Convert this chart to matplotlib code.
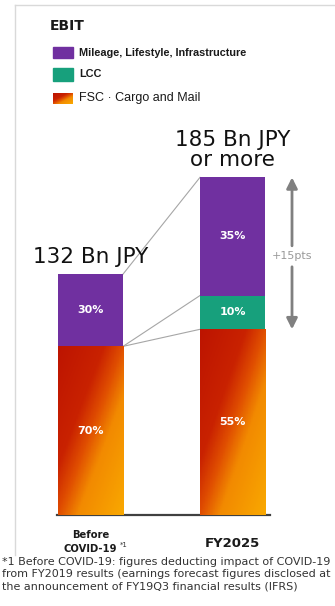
import numpy as np
import matplotlib.pyplot as plt
from matplotlib.colors import LinearSegmentedColormap
from matplotlib.patches import Rectangle
from matplotlib.lines import Line2D

# data
periods = ['Before\nCOVID-19', 'FY2025']
totals = [132, 185]
share_fsc = [70, 55]
share_lcc = [0, 10]
share_mileage = [30, 35]
total_labels = ['132 Bn JPY', '185 Bn JPY\nor more']
legend_names = ['Mileage, Lifestyle, Infrastructure', 'LCC', 'FSC \u00b7 Cargo and Mail']

fsc = [t * s / 100 for t, s in zip(totals, share_fsc)]
lcc = [t * s / 100 for t, s in zip(totals, share_lcc)]
mileage = [t * s / 100 for t, s in zip(totals, share_mileage)]

purple = '#7030a0'
green = '#17a07c'
grad_cmap = LinearSegmentedColormap.from_list(
    'fsc', [(0, '#bd1400'), (0.35, '#c92200'), (0.5, '#e04e00'),
            (0.65, '#f28a00'), (1, '#f9a800')])

def gradient(nx=40, ny=120):
    # diagonal red -> orange, top-left to bottom-right
    u = np.linspace(0, 1, nx)[None, :]
    v = np.linspace(0, 1, ny)[:, None]
    return (u + v) / 2

fig = plt.figure(figsize=(3.35, 6.06), dpi=100)
ax = fig.add_axes([57 / 335, 91 / 606, 213 / 335, 365 / 606])

x = np.arange(len(periods))
w = 0.458
bars_fsc = ax.bar(x, fsc, w, color='#d83a00', zorder=2)
ax.bar(x, lcc, w, bottom=fsc, color=green, zorder=2)
bottom2 = [a + b for a, b in zip(fsc, lcc)]
ax.bar(x, mileage, w, bottom=bottom2, color=purple, zorder=2)

# gradient fill for FSC bars
for b in bars_fsc:
    x0 = b.get_x()
    im = ax.imshow(gradient(), cmap=grad_cmap, vmin=0, vmax=1, aspect='auto',
                   extent=[x0, x0 + b.get_width(), 0, b.get_height()], zorder=3)
    im.set_clip_path(b)

# connector lines
ax.plot([w / 2, 1 - w / 2], [totals[0], totals[1]], color='#a6a6a6', lw=0.8, zorder=1)
ax.plot([w / 2, 1 - w / 2], [fsc[0], bottom2[1]], color='#a6a6a6', lw=0.8, zorder=1)
ax.plot([w / 2, 1 - w / 2], [fsc[0], fsc[1]], color='#a6a6a6', lw=0.8, zorder=1)

# percentage labels
for i in x:
    ax.text(i, fsc[i] / 2, '%d%%' % share_fsc[i], color='white', fontsize=8,
            fontweight='bold', ha='center', va='center', zorder=4)
    if share_lcc[i]:
        ax.text(i, fsc[i] + lcc[i] / 2, '%d%%' % share_lcc[i], color='white',
                fontsize=8, fontweight='bold', ha='center', va='center', zorder=4)
    ax.text(i, bottom2[i] + mileage[i] / 2, '%d%%' % share_mileage[i], color='white',
            fontsize=8, fontweight='bold', ha='center', va='center', zorder=4)

# totals
ax.text(0, totals[0] + 6, total_labels[0], fontsize=15.5, ha='center', va='baseline',
        color='#111111', clip_on=False)
ax.text(1, totals[1] + 4, total_labels[1], fontsize=15.5, ha='center', va='bottom',
        color='#111111', linespacing=1.0, clip_on=False)

# +15pts arrow
ax_x = 1.419
ax.annotate('', xy=(ax_x, totals[1]), xytext=(ax_x, 147.5), annotation_clip=False,
            arrowprops=dict(arrowstyle='-|>', color='#808080', lw=2, mutation_scale=16,
                            shrinkA=0, shrinkB=0))
ax.annotate('', xy=(ax_x, fsc[1]), xytext=(ax_x, 136), annotation_clip=False,
            arrowprops=dict(arrowstyle='-|>', color='#808080', lw=2, mutation_scale=16,
                            shrinkA=0, shrinkB=0))
ax.text(ax_x, 141.8, '+15pts', fontsize=8, color='#999999', ha='center', va='center',
        clip_on=False)

ax.set_xlim(-0.236, 1.264)
ax.set_ylim(0, 200)
for s in ['top', 'right', 'left']:
    ax.spines[s].set_visible(False)
ax.spines['bottom'].set_color('#404040')
ax.spines['bottom'].set_linewidth(1.6)
ax.set_yticks([])
ax.set_xticks([])

# category labels
ax.text(0, -8, periods[0], fontsize=7.2, fontweight='bold', ha='center', va='top',
        linespacing=1.6, color='#1a1a1a')
ax.text(0.205, -16.4, '*1', fontsize=5, ha='left', va='center', color='#333333')
ax.text(1, -12, periods[1], fontsize=9.5, fontweight='bold', ha='center', va='top',
        color='#1a1a1a')

# legend
fig.text(50 / 335, 1 - 26 / 606, 'EBIT', fontsize=10, fontweight='bold', va='center',
         color='#1a1a1a')
fig.patches.append(Rectangle((53 / 335, 1 - 58 / 606), 20 / 335, 11 / 606,
                             color=purple, transform=fig.transFigure))
fig.patches.append(Rectangle((53 / 335, 1 - 81 / 606), 20 / 335, 13 / 606,
                             color=green, transform=fig.transFigure))
lax = fig.add_axes([53 / 335, 1 - 104 / 606, 20 / 335, 11 / 606])
lax.imshow(gradient(20, 12), cmap=grad_cmap, vmin=0, vmax=1, aspect='auto')
lax.axis('off')
fig.text(79 / 335, 1 - 53 / 606, legend_names[0], fontsize=7.8, fontweight='bold',
         family='Liberation Sans', va='center', color='#1a1a1a')
fig.text(79 / 335, 1 - 74 / 606, legend_names[1], fontsize=7.8, fontweight='bold',
         family='Liberation Sans', va='center', color='#1a1a1a')
fig.text(79 / 335, 1 - 98 / 606, legend_names[2], fontsize=9,
         family='Liberation Sans', va='center', color='#1a1a1a')

# frame lines
fig.add_artist(Line2D([15 / 335, 1], [1 - 5 / 606, 1 - 5 / 606], color='#d9d9d9', lw=1,
                      transform=fig.transFigure))
fig.add_artist(Line2D([15 / 335, 15 / 335], [1 - 5 / 606, 1 - 555 / 606], color='#d9d9d9',
                      lw=1, transform=fig.transFigure))

# footnote
fig.text(2 / 335, 1 - 557 / 606,
         '*1 Before COVID-19: figures deducting impact of COVID-19\n'
         'from FY2019 results (earnings forecast figures disclosed at\n'
         'the announcement of FY19Q3 financial results (IFRS)',
         fontsize=8, va='top', linespacing=1.3, color='#333333')

fig.savefig('out.png', dpi=100)
